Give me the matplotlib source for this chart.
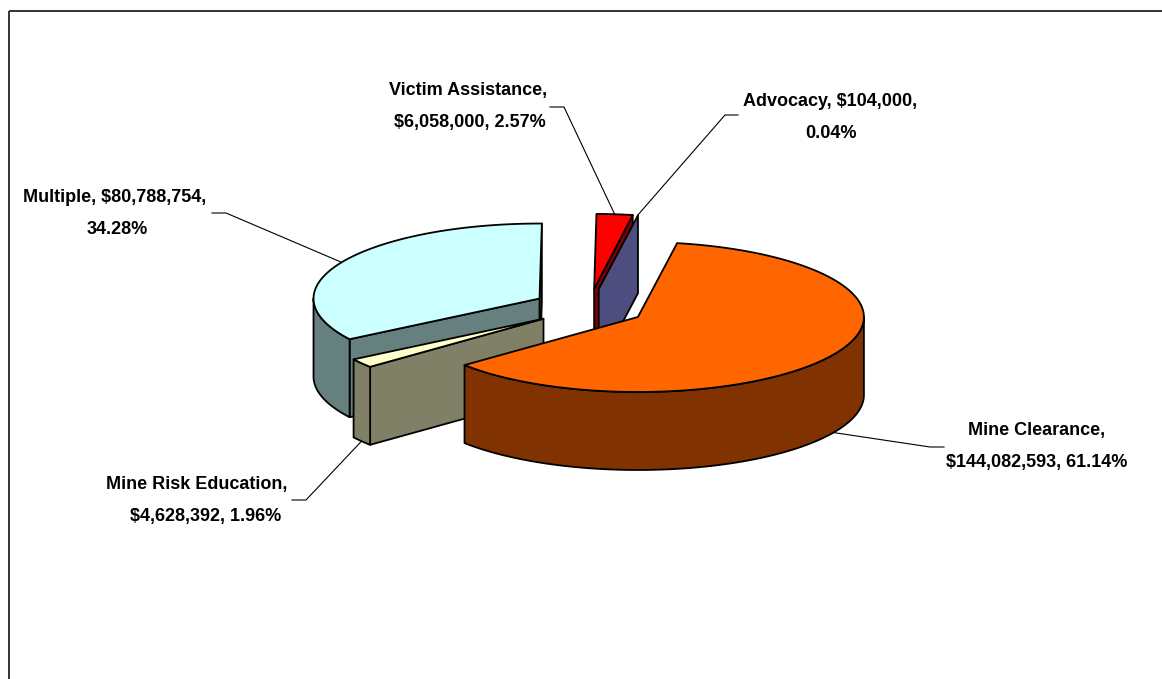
#!/usr/bin/env python3
"""Exploded 3D-style pie of mine action funding by sector, saved to out.png."""

import matplotlib
matplotlib.use("Agg")

import matplotlib.pyplot as plt
import numpy as np
from matplotlib.patches import Polygon, Rectangle

# Clockwise order around the pie
SECTORS = ["Mine Clearance", "Mine Risk Education", "Multiple",
           "Victim Assistance", "Advocacy"]
FUNDING = [144082593, 4628392, 80788754, 6058000, 104000]

TOP_COLORS = ["#FF6600", "#FFFFCC", "#CCFFFF", "#FF0000", "#9999FF"]
SIDE_COLORS = ["#803300", "#808066", "#668080", "#800000", "#4D4D80"]

# Pie shape, in pixels
CENTER = (589.0, 307.6)
RX, RY = 226.0, 75.0
DEPTH = 78.0
EXPLODE = 0.25
START_ANGLE = 80.0

# Text lines per slice as (centre x, y)
LABEL_LINES = [
    [("{name},", 1037, 430), ("{money}, {pct}", 1037, 462)],
    [("{name},", 197, 485), ("{money}, {pct}", 206, 517)],
    [("{name}, {money},", 115, 198), ("{pct}", 117, 229)],
    [("{name},", 468, 91), ("{money}, {pct}", 470, 123)],
    [("{name}, {money},", 830, 101), ("{pct}", 831, 133)],
]
# Leader line elbows: (near the text, knee)
LEADER_ELBOWS = [
    [(944, 447), (930, 447)],
    [(292, 500), (306, 500)],
    [(212, 213), (226, 213)],
    [(550, 107), (564, 107)],
    [(738, 115), (725, 115)],
]


def rim(apex, t):
    t = np.radians(t)
    return np.array([apex[0] + RX * np.cos(t), apex[1] - RY * np.sin(t)])


def arc(apex, t1, t2, n=120):
    return np.array([rim(apex, t) for t in np.linspace(t1, t2, n)])


def add_poly(ax, pts, color, z):
    ax.add_patch(Polygon(pts, closed=True, facecolor=color, edgecolor="black",
                         linewidth=1.3, joinstyle="round", zorder=z))


def down(pts):
    return np.asarray(pts) + [0, DEPTH]


def cut_face(ax, apex, t, color, z):
    a = np.array(apex)
    b = rim(apex, t)
    add_poly(ax, [a, b, down(b), down(a)], color, z)


def outer_wall(ax, apex, t1, t2, color, z):
    top = arc(apex, t1, t2)
    add_poly(ax, np.vstack([top, down(top)[::-1]]), color, z)


def top_face(ax, apex, t1, t2, color, z):
    add_poly(ax, np.vstack([[apex], arc(apex, t1, t2)]), color, z)


fig = plt.figure(figsize=(11.62, 6.79), dpi=100)
ax = fig.add_axes([0, 0, 1, 1])
ax.set_xlim(0, 1162)
ax.set_ylim(679, 0)
ax.axis("off")

# Chart area frame runs off the right and bottom edges
ax.add_patch(Rectangle((8.5, 10.5), 1300, 800, fill=False, edgecolor="#333333",
                       linewidth=1.4, zorder=1))

funding = np.array(FUNDING, dtype=float)
sweep = funding / funding.sum() * 360.0
t_start = START_ANGLE - np.concatenate([[0], np.cumsum(sweep)[:-1]])
t_end = t_start - sweep
t_mid = (t_start + t_end) / 2

apexes = []
for t in t_mid:
    r = np.radians(t)
    apexes.append((CENTER[0] + EXPLODE * RX * np.cos(r),
                   CENTER[1] - EXPLODE * RY * np.sin(r)))

clear, risk, multi, victim, advo = range(5)

# Back to front: Multiple, Victim Assistance, Advocacy, Mine Risk Education, Mine Clearance
cut_face(ax, apexes[multi], t_end[multi], SIDE_COLORS[multi], 2)
cut_face(ax, apexes[multi], t_start[multi], SIDE_COLORS[multi], 2)
outer_wall(ax, apexes[multi], -180, t_start[multi], SIDE_COLORS[multi], 2)
top_face(ax, apexes[multi], t_start[multi], t_end[multi], TOP_COLORS[multi], 2.5)

cut_face(ax, apexes[victim], t_end[victim], SIDE_COLORS[victim], 3)
top_face(ax, apexes[victim], t_start[victim], t_end[victim], TOP_COLORS[victim], 3.5)
cut_face(ax, apexes[advo], t_end[advo], SIDE_COLORS[advo], 4)

cut_face(ax, apexes[risk], t_start[risk], SIDE_COLORS[risk], 5)
outer_wall(ax, apexes[risk], t_end[risk], t_start[risk], SIDE_COLORS[risk], 5)
top_face(ax, apexes[risk], t_start[risk], t_end[risk], TOP_COLORS[risk], 5.5)

outer_wall(ax, apexes[clear], t_end[clear], 0, SIDE_COLORS[clear], 6)
top_face(ax, apexes[clear], t_start[clear], t_end[clear], TOP_COLORS[clear], 6.5)

# Labels and leader lines
for i, name in enumerate(SECTORS):
    anchor = rim(apexes[i], t_mid[i])
    if np.sin(np.radians(t_mid[i])) < 0:
        anchor = anchor + [0, DEPTH]
    elbow = LEADER_ELBOWS[i]
    ax.plot([elbow[0][0], elbow[1][0], anchor[0]], [elbow[0][1], elbow[1][1], anchor[1]],
            color="black", linewidth=0.8, zorder=8)
    money = f"${FUNDING[i]:,}"
    pct = f"{FUNDING[i] / funding.sum() * 100:.2f}%"
    for line, x, y in LABEL_LINES[i]:
        ax.text(x, y, line.format(name=name, money=money, pct=pct), ha="center", va="center",
                fontsize=13, fontweight="bold", color="black",
                family="Liberation Sans", zorder=9)

fig.savefig("out.png", dpi=100, facecolor="white")
plt.close(fig)
